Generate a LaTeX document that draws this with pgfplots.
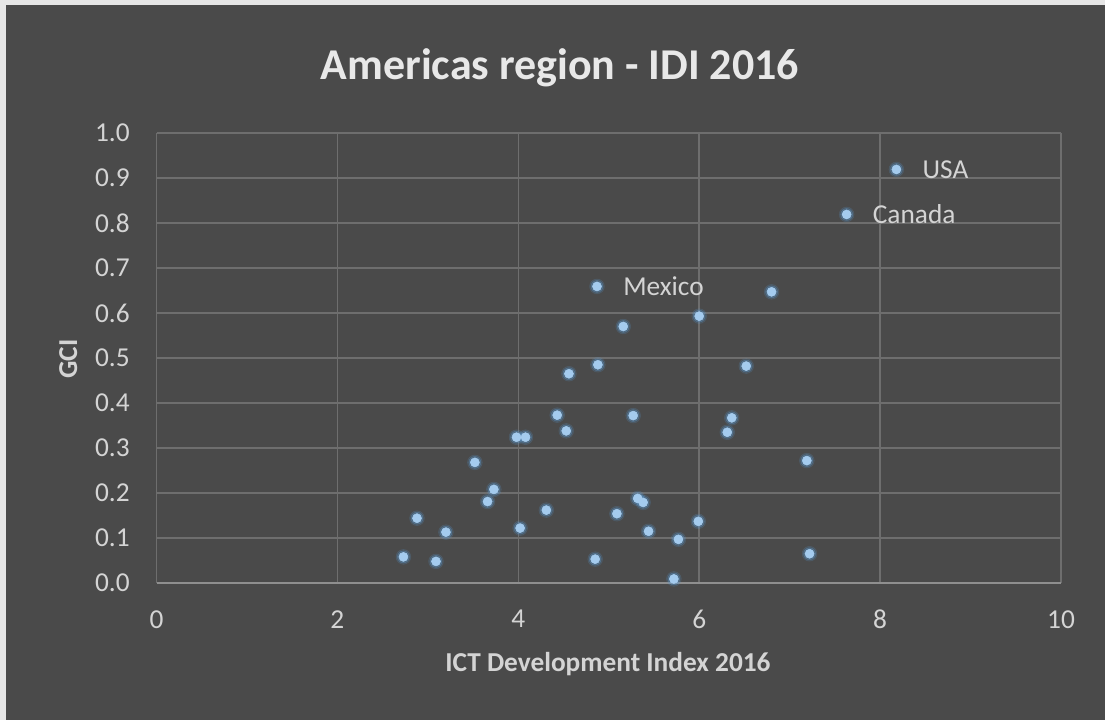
\documentclass[border=0pt]{standalone}
\usepackage{fontspec}
\setmainfont{Carlito}
\usepackage{pgfplots}
\pgfplotsset{compat=1.18}
\definecolor{bg}{HTML}{4A4A4A}
\definecolor{edgec}{HTML}{E6E6E6}
\definecolor{gridc}{HTML}{6E6E6E}
\definecolor{axisc}{HTML}{8F8F8F}
\definecolor{txt}{HTML}{D4D4D4}
\definecolor{ttl}{HTML}{E8E8E8}
\definecolor{ptc}{HTML}{A4CBEE}
\definecolor{glow}{HTML}{5B9BD5}

\pgfplotstableread{
x y
2.73 0.058
3.09 0.048
2.88 0.144
3.20 0.113
3.52 0.268
3.66 0.181
3.73 0.208
3.98 0.324
4.08 0.324
4.02 0.122
4.31 0.162
4.43 0.373
4.53 0.338
4.56 0.465
4.88 0.485
4.85 0.053
5.16 0.570
4.87 0.659
5.27 0.372
5.09 0.154
5.32 0.188
5.38 0.179
5.44 0.115
5.72 0.009
5.77 0.097
5.99 0.137
6.00 0.593
6.31 0.335
6.36 0.367
6.52 0.482
6.80 0.647
7.19 0.272
7.22 0.065
7.63 0.819
8.18 0.919
}\datatable

\begin{document}
\begin{tikzpicture}
\fill[edgec] (0pt,0pt) rectangle (828.75pt,540pt);
\fill[bg] (4.5pt,0pt) rectangle (828.75pt,536.25pt);
\begin{axis}[
  at={(117.375pt,102.75pt)}, anchor=south west,
  scale only axis, width=678.375pt, height=337.5pt,
  xmin=0, xmax=10, ymin=0, ymax=1,
  xtick={0,2,4,6,8,10},
  ytick={0,0.1,0.2,0.3,0.4,0.5,0.6,0.7,0.8,0.9,1},
  /pgf/number format/assume math mode=true,
  grid=major,
  major grid style={gridc, line width=1.1pt},
  extra y ticks={0},
  extra y tick labels={},
  extra y tick style={grid=major, major grid style={axisc, line width=1.6pt}},
  axis line style={draw=none},
  major tick length=0pt,
  tick label style={font=\fontsize{20.5}{24}\selectfont, text=txt},
  yticklabel style={anchor=east, inner sep=0pt, xshift=-19.9pt, /pgf/number format/fixed, /pgf/number format/fixed zerofill, /pgf/number format/precision=1},
  xticklabel style={anchor=north, inner sep=0pt, yshift=-20.25pt},
  clip=false,
]
\addplot[only marks, mark=*, color=glow, mark size=5.6pt, opacity=0.15, mark options={draw=glow, fill=glow}] table[x=x,y=y] {\datatable};
\addplot[only marks, mark=*, color=glow, mark size=4.5pt, opacity=0.3, mark options={draw=glow, fill=glow}] table[x=x,y=y] {\datatable};
\addplot[only marks, mark=*, color=ptc, mark size=3.4pt, mark options={draw=ptc, fill=ptc}] table[x=x,y=y] {\datatable};
\node[anchor=west, inner sep=0pt, xshift=19.5pt, text=txt, font=\fontsize{20.5}{24}\selectfont] at (axis cs:8.18,0.919) {USA};
\node[anchor=west, inner sep=0pt, xshift=19.5pt, text=txt, font=\fontsize{20.5}{24}\selectfont] at (axis cs:7.63,0.819) {Canada};
\node[anchor=west, inner sep=0pt, xshift=19.5pt, text=txt, font=\fontsize{20.5}{24}\selectfont] at (axis cs:4.87,0.659) {Mexico};
\end{axis}
\node[anchor=base, inner sep=0pt, text=ttl, font=\bfseries\fontsize{33}{38}\selectfont] at (420pt,480pt) {Americas region - IDI 2016};
\node[anchor=base, inner sep=0pt, text=txt, font=\bfseries\fontsize{20.5}{24}\selectfont] at (456pt,36.2pt) {ICT Development Index 2016};
\node[anchor=base, inner sep=0pt, rotate=90, text=txt, font=\bfseries\fontsize{20.5}{24}\selectfont] at (57.75pt,270.75pt) {GCI};
\end{tikzpicture}
\end{document}
